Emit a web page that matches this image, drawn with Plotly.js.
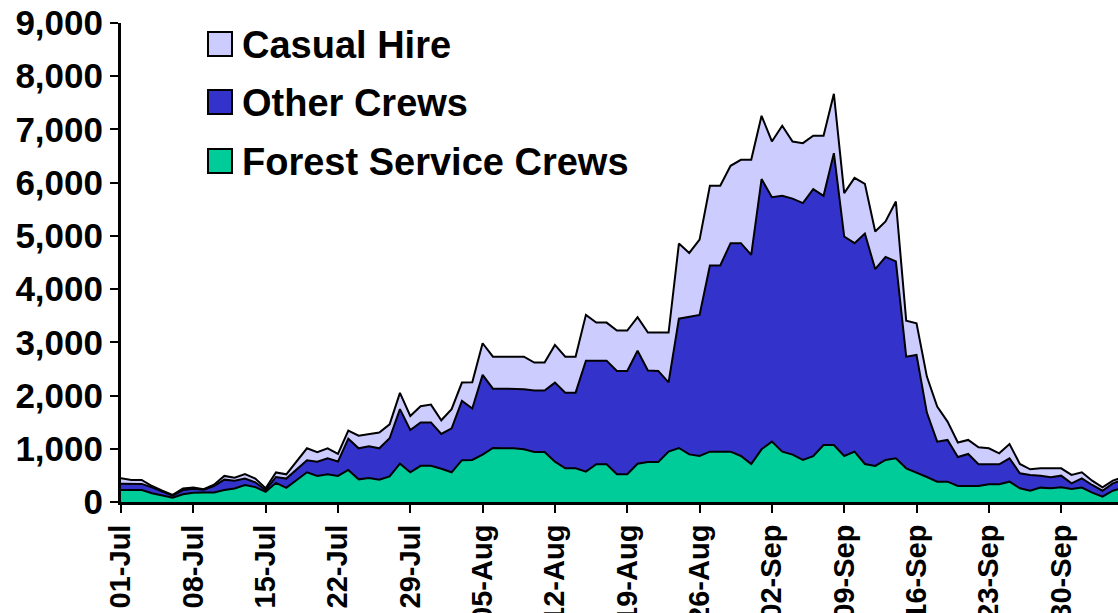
<!DOCTYPE html>
<html>
<head>
<meta charset="utf-8">
<script src="https://cdn.plot.ly/plotly-3.0.1.min.js"></script>
<style>
html,body{margin:0;padding:0;background:#fff;}
#chart{width:1118px;height:613px;}
</style>
</head>
<body>
<div id="chart"></div>
<script>
// ---- data (daily personnel, 01-Jul onwards) ----
const startDate = '2002-07-01';
const seriesNames = ['Forest Service Crews', 'Other Crews', 'Casual Hire'];
const seriesColors = ['#00CC99', '#3333CC', '#CCCCFF'];

const forestService = [225,225,225,165,120,80,145,175,180,180,
  225,255,320,280,190,360,265,415,558,489,
  520,489,602,426,450,420,480,720,558,680,
  680,625,558,785,790,890,1015,1009,1009,990,
  940,940,758,633,633,570,709,709,520,520,
  720,750,750,946,1015,895,865,946,946,946,
  865,714,990,1134,946,890,790,860,1072,1072,
  865,946,714,677,790,821,633,555,470,382,
  382,301,301,301,333,333,382,257,212,270,
  257,276,244,270,175,100,212,270];

const otherCrews = [120,115,115,110,70,40,80,75,50,120,
  195,145,120,90,35,110,175,200,227,266,
  301,271,588,583,595,589,717,1025,796,815,
  815,653,827,1115,968,1498,1115,1121,1121,1130,
  1153,1153,1485,1422,1422,2086,1947,1947,1943,1943,
  2122,1720,1713,1301,2430,2580,2651,3499,3497,3917,
  3998,3930,5077,4594,4807,4810,4826,5019,4681,5483,
  4123,3917,4331,3698,3815,3699,2098,2208,1210,752,
  784,545,601,408,376,376,439,282,296,225,
  207,219,107,175,145,112,139,150];

const casualHire = [100,75,75,25,22,15,30,20,10,25,
  70,55,83,72,32,85,80,160,224,182,
  188,145,150,236,230,296,263,305,263,305,
  335,257,360,345,492,595,601,601,601,611,
  526,526,709,676,676,860,715,715,758,758,
  630,713,720,936,1410,1205,1414,1496,1498,1454,
  1567,1786,1190,1046,1316,1074,1127,1002,1128,1115,
  815,1227,933,707,665,1126,677,596,676,658,
  344,272,264,319,300,206,269,175,106,138,
  169,138,157,113,81,64,50,50];

// category dates (one per day)
const dates = [];
(function(){
  const d0 = new Date(startDate + 'T00:00:00Z');
  for (let i = 0; i < forestService.length; i++) {
    const d = new Date(d0.getTime() + i * 86400000);
    dates.push(d.toISOString().slice(0, 10));
  }
})();

const seriesValues = [forestService, otherCrews, casualHire];

const traces = seriesValues.map((vals, k) => ({
  type: 'scatter',
  mode: 'lines',
  x: dates,
  y: vals,
  name: seriesNames[k],
  stackgroup: 'one',
  line: {color: '#000000', width: 2, shape: 'linear'},
  fillcolor: seriesColors[k],
  showlegend: false,
  hoverinfo: 'skip'
}));

// ---- layout ----
const L = 121, R = 1118, T = 23, B = 502;
const W = R - L, H = B - T;
const px = v => (v - L) / W;
const py = v => (B - v) / H;

const fontFam = 'Arial, "Liberation Sans", Helvetica, sans-serif';

// manual legend (top-to-bottom: Casual Hire, Other Crews, Forest Service Crews)
const legendOrder = [2, 1, 0];
const rowCenters = [44, 102, 161];
const shapes = [];
const annotations = [];
legendOrder.forEach((k, r) => {
  const c = rowCenters[r];
  shapes.push({
    type: 'rect', xref: 'paper', yref: 'paper',
    x0: px(208), x1: px(232), y0: py(c + 12), y1: py(c - 12),
    fillcolor: seriesColors[k], line: {color: '#000', width: 2}, layer: 'above'
  });
  annotations.push({
    xref: 'paper', yref: 'paper', x: px(240), y: py(c + 1),
    xanchor: 'left', yanchor: 'middle', showarrow: false,
    text: seriesNames[k],
    font: {family: fontFam, size: 38, color: '#000', weight: 'bold'}
  });
});

const layout = {
  width: 1118, height: 613,
  margin: {l: L, r: 1118 - R, t: T, b: 613 - B, pad: 0},
  paper_bgcolor: '#fff', plot_bgcolor: '#fff',
  showlegend: false,
  xaxis: {
    type: 'date',
    range: [startDate, '2002-10-05 12:00'],
    tick0: startDate,
    dtick: 7 * 86400000,
    tickformat: '%d-%b',
    tickangle: -90,
    ticks: 'outside', ticklen: 8, tickwidth: 2, tickcolor: '#000',
    showline: true, linecolor: '#000', linewidth: 3,
    showgrid: false, zeroline: false,
    tickfont: {family: fontFam, size: 29, color: '#000', weight: 'bold'},
    fixedrange: true
  },
  yaxis: {
    range: [0, 9000],
    dtick: 1000,
    tickformat: ',d',
    ticks: 'outside', ticklen: 8, tickwidth: 2, tickcolor: '#000',
    showline: true, linecolor: '#000', linewidth: 3,
    showgrid: false, zeroline: false,
    tickfont: {family: fontFam, size: 35, color: '#000', weight: 'bold'},
    fixedrange: true
  },
  shapes: shapes,
  annotations: annotations
};

Plotly.newPlot('chart', traces, layout, {staticPlot: true, displayModeBar: false});
</script>
</body>
</html>
